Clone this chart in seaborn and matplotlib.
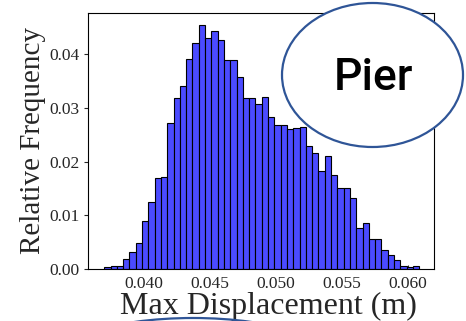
import numpy as np
import pandas as pd
import matplotlib
matplotlib.use("Agg")
import matplotlib.pyplot as plt
from matplotlib.patches import Ellipse
from matplotlib.ticker import FormatStrFormatter
import seaborn as sns

# ---- data ----
bin_lo = 0.03703
bin_hi = 0.06086
n_bins = 50
freq = [0.0004, 0.0006, 0.0006, 0.0019, 0.0031, 0.0048, 0.0089, 0.0125, 0.0169, 0.0172,
        0.0272, 0.0318, 0.0341, 0.0391, 0.0421, 0.0454, 0.0430, 0.0444, 0.0426, 0.0389,
        0.0390, 0.0357, 0.0318, 0.0318, 0.0307, 0.0320, 0.0284, 0.0268, 0.0268, 0.0261,
        0.0263, 0.0265, 0.0229, 0.0217, 0.0183, 0.0211, 0.0176, 0.0150, 0.0151, 0.0132,
        0.0076, 0.0085, 0.0055, 0.0056, 0.0035, 0.0026, 0.0017, 0.0006, 0.0004, 0.0006]
xticks = [0.040, 0.045, 0.050, 0.055, 0.060]
yticks = [0.00, 0.01, 0.02, 0.03, 0.04]
xlabel = "Max Displacement (m)"
ylabel = "Relative Frequency"
badge = "Pier"

edges = np.linspace(bin_lo, bin_hi, n_bins + 1)
centers = (edges[:-1] + edges[1:]) / 2
df = pd.DataFrame({"disp": centers, "freq": freq})

sns.set_style("ticks")
plt.rcParams["font.family"] = ["Liberation Serif", "DejaVu Serif"]

fig = plt.figure(figsize=(4.66, 3.21), dpi=100)
ax = fig.add_axes([0.1895, 0.162, 0.7425, 0.798])

sns.histplot(data=df, x="disp", weights="freq", bins=edges.tolist(), stat="count",
             color="#4b4bff", alpha=1.0, edgecolor="black", linewidth=0.8, ax=ax)

ax.set_xlim(0.03582, 0.0620)
ax.set_ylim(0, 0.04773)
ax.set_xticks(xticks)
ax.set_yticks(yticks)
ax.xaxis.set_major_formatter(FormatStrFormatter("%.3f"))
ax.yaxis.set_major_formatter(FormatStrFormatter("%.2f"))
ax.tick_params(axis="x", direction="in", length=3, labelsize=12.5, pad=5)
ax.tick_params(axis="y", direction="out", length=3, labelsize=12.5)
ax.set_xlabel(xlabel, fontsize=23, labelpad=0)
ax.xaxis.set_label_coords(0.521, -0.089)
ax.xaxis.label.set_va("top")
ax.set_ylabel(ylabel, fontsize=21, labelpad=2)
for s in ax.spines.values():
    s.set_visible(True)
    s.set_color("black")
    s.set_linewidth(0.8)

# badge ellipse + text (figure inches coordinates)
tr = fig.dpi_scale_trans
e1 = Ellipse((3.725, 2.46), 1.81, 1.44, transform=tr, facecolor="white",
             edgecolor="#2f5597", linewidth=1.6, clip_on=False, zorder=10)
fig.add_artist(e1)
fig.text(3.73, 2.43, badge, transform=tr, ha="center", va="center",
         fontsize=32, family=["Roboto", "DejaVu Sans"], fontweight="medium",
         color="black", zorder=11)
e2 = Ellipse((1.93, -0.47), 3.0, 1.0, transform=tr, facecolor="none",
             edgecolor="#2f5597", linewidth=1.6, clip_on=False, zorder=10)
fig.add_artist(e2)

fig.savefig("out.png", dpi=100)
